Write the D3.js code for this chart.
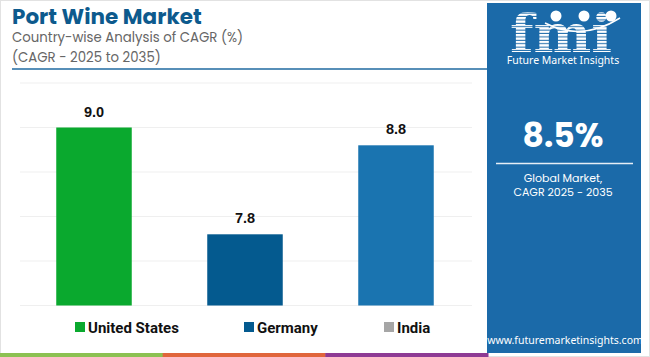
<!DOCTYPE html>
<html><head><meta charset="utf-8">
<script src="https://cdn.jsdelivr.net/npm/d3@7"></script>
<style>
html,body{margin:0;padding:0;background:#fff;}
svg{display:block;}
</style></head>
<body>
<svg id="chart" width="650" height="357"></svg>
<script>
const categories = ["United States", "Germany", "India"];
const values = [9.0, 7.8, 8.8];
const barColors = ["#0aa92e", "#045a8f", "#1a74b0"];
const legendColors = ["#0aa92e", "#045a8f", "#a6a6a6"];
const yTicks = [7, 7.5, 8, 8.5, 9, 9.5];
const titleText = "Port Wine Market";
const subtitleLines = ["Country-wise Analysis of CAGR (%)", "(CAGR - 2025 to 2035)"];
const globalValue = "8.5%";
const globalLabel = ["Global Market,", "CAGR 2025 - 2035"];
const stripeColors = ["#8cc152", "#e0663c", "#8e3a94"];

const svg = d3.select("#chart");
const W = 650, H = 357;

// border
svg.append("rect").attr("x",0.5).attr("y",0.5).attr("width",W-1).attr("height",H-1)
  .attr("fill","#fff").attr("stroke","#e2e2e2");

// Title
svg.append("text").attr("x",12).attr("y",24).text(titleText)
  .attr("font-family","Poppins, 'Noto Sans', sans-serif").attr("font-weight",700)
  .attr("font-size",21.5).attr("fill","#0d5a8d");
subtitleLines.forEach((t,i)=>{
  svg.append("text").attr("x",12).attr("y",42+i*20).text(t)
    .attr("font-family","Poppins, 'Noto Sans', sans-serif").attr("font-size",13.3)
    .attr("fill","#666");
});
svg.append("line").attr("x1",12).attr("x2",492).attr("y1",69).attr("y2",69)
  .attr("stroke","#1f6aa0").attr("stroke-width",1.5);

// Scales
const x = d3.scaleBand().domain(categories).range([18.5,471.5]).paddingInner(0.5).paddingOuter(0.25);
const y = d3.scaleLinear().domain([7,9.5]).range([305.5,83]);

// grid
svg.append("g").selectAll("line").data(yTicks).join("line")
  .attr("x1",20).attr("x2",472).attr("y1",d=>y(d)).attr("y2",d=>y(d))
  .attr("stroke","#efefef").attr("stroke-width",1);

// bars
svg.append("g").selectAll("rect").data(values).join("rect")
  .attr("x",(d,i)=>x(categories[i])).attr("width",x.bandwidth())
  .attr("y",d=>y(d)).attr("height",d=>y(7)-y(d))
  .attr("fill",(d,i)=>barColors[i]);

// value labels
svg.append("g").selectAll("text").data(values).join("text")
  .attr("x",(d,i)=>x(categories[i])+x.bandwidth()/2).attr("y",d=>y(d)-11)
  .attr("text-anchor","middle").text(d=>d.toFixed(1))
  .attr("font-family","'Liberation Sans', Arial, sans-serif").attr("font-weight",700)
  .attr("font-size",14.5).attr("fill","#111");

// legend
const legX = [75, 244, 384];
const lg = svg.append("g").selectAll("g").data(categories).join("g")
  .attr("transform",(d,i)=>`translate(${legX[i]},327)`);
lg.append("rect").attr("x",0).attr("y",-5).attr("width",10).attr("height",10)
  .attr("fill",(d,i)=>legendColors[i]);
lg.append("text").attr("x",13).attr("y",5.5).text(d=>d)
  .attr("font-family","Roboto, sans-serif").attr("font-weight",700)
  .attr("font-size",15).attr("fill","#111");

// bottom stripes
const sw = 488/3;
stripeColors.forEach((c,i)=>{
  svg.append("rect").attr("x",i*sw).attr("y",353).attr("width",sw+0.5).attr("height",4).attr("fill",c);
});

// right panel
const px = 487, pw = 154;
svg.append("rect").attr("x",px).attr("y",3).attr("width",pw).attr("height",350).attr("fill","#1b6aa9");
const cx = px + pw/2;

// logo
const defs = svg.append("defs");
const pat = defs.append("pattern").attr("id","stripes").attr("patternUnits","userSpaceOnUse")
  .attr("width",4).attr("height",3.4);
pat.append("rect").attr("width",4).attr("height",3.4).attr("fill","#fff");
pat.append("rect").attr("y",2.4).attr("width",4).attr("height",1).attr("fill","#1b6aa9");
svg.append("text").attr("x",510).attr("y",52).text("fmi")
  .attr("font-family","'DejaVu Serif', serif").attr("font-weight",700)
  .attr("font-size",52).attr("fill","url(#stripes)")
  .attr("textLength",102).attr("lengthAdjust","spacingAndGlyphs");
[556,584,611].forEach(c=>{
  svg.append("circle").attr("cx",c).attr("cy",16).attr("r",5.5).attr("fill","#fff");
});
svg.append("path").attr("d","M545,23 Q582,42 620,18").attr("fill","none")
  .attr("stroke","#fff").attr("stroke-width",1.5);
svg.append("text").attr("x",cx-1).attr("y",64).attr("text-anchor","middle").text("Future Market Insights")
  .attr("font-family","'Noto Sans', sans-serif").attr("font-size",10.5).attr("fill","#fff");

svg.append("text").attr("x",cx-1).attr("y",147).attr("text-anchor","middle").text(globalValue)
  .attr("font-family","Poppins, 'Noto Sans', sans-serif").attr("font-weight",700)
  .attr("font-size",33).attr("fill","#fff");
svg.append("line").attr("x1",496).attr("x2",633).attr("y1",163.5).attr("y2",163.5)
  .attr("stroke","#e6eef6").attr("stroke-width",1.5);
globalLabel.forEach((t,i)=>{
  svg.append("text").attr("x",cx-1).attr("y",182+i*14).attr("text-anchor","middle").text(t)
    .attr("font-family","Poppins, 'Noto Sans', sans-serif").attr("font-size",11).attr("fill","#fff");
});
svg.append("text").attr("x",cx+1).attr("y",344).attr("text-anchor","middle").text("www.futuremarketinsights.com")
  .attr("font-family","'Noto Sans', sans-serif").attr("font-size",10.5).attr("fill","#fff");
</script>
</body></html>
